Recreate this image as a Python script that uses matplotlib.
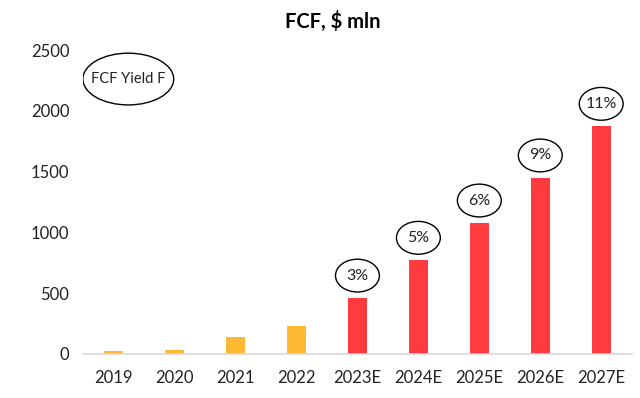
import matplotlib
matplotlib.use("Agg")
import matplotlib.pyplot as plt
from matplotlib.patches import Ellipse

years = ["2019", "2020", "2021", "2022", "2023E", "2024E", "2025E", "2026E", "2027E"]
fcf = [27, 35, 139, 229, 459, 770, 1077, 1448, 1873]
is_estimate = [False, False, False, False, True, True, True, True, True]
yield_labels = ["", "", "", "", "3%", "5%", "6%", "9%", "11%"]

plt.rcParams["font.family"] = ["Lato", "DejaVu Sans"]

fig = plt.figure(figsize=(6.4, 3.98), dpi=100)
ax = fig.add_axes([0.13, 0.111, 0.857, 0.763])

colors = ["#FF3B3F" if e else "#FFB833" for e in is_estimate]
x = list(range(len(years)))
ax.bar(x, fcf, width=0.31, color=colors)

# ellipses with the FCF yield above forecast bars
for i, (v, lab) in enumerate(zip(fcf, yield_labels)):
    if not lab:
        continue
    cy = v + 185
    ax.add_patch(Ellipse((i, cy), 0.72, 270, fill=False, edgecolor="black", linewidth=1.0))
    ax.text(i, cy, lab, ha="center", va="center", fontsize=11.5, color="#222222")

ax.add_patch(Ellipse((0.24, 2262), 1.49, 426, fill=False, edgecolor="black", linewidth=1.0))
ax.text(0.24, 2262, "FCF Yield F", ha="center", va="center", fontsize=10.5, color="#222222")

ax.set_xlim(-0.5, len(years) - 0.5)
ax.set_ylim(0, 2500)
ax.set_yticks([0, 500, 1000, 1500, 2000, 2500])
ax.set_xticks(x)
ax.set_xticklabels(years)
ax.tick_params(axis="both", length=0, labelsize=12, colors="#222222")
ax.tick_params(axis="x", pad=12)
ax.tick_params(axis="y", pad=10)

for s in ["top", "right", "left"]:
    ax.spines[s].set_visible(False)
ax.spines["bottom"].set_color("#D9D9D9")
ax.spines["bottom"].set_linewidth(1.2)

fig.text(0.52, 0.945, "FCF, $ mln", ha="center", va="center", fontsize=14.5, fontweight="bold")

fig.savefig("out.png", dpi=100)
